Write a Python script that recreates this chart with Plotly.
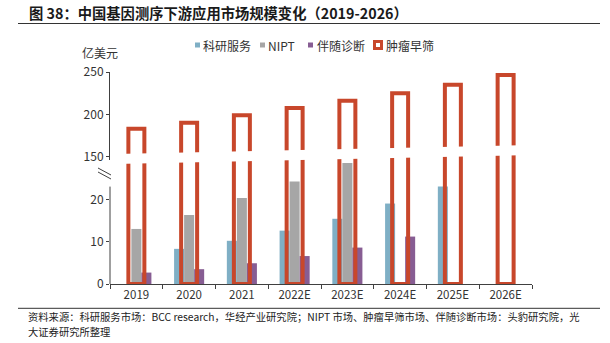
import plotly.graph_objects as go

# ---- data ----
years = ['2019', '2020', '2021', '2022E', '2023E', '2024E', '2025E', '2026E']
research = [None, 8.3, 10.2, 12.6, 15.4, 19.0, 23.0, None]      # 科研服务
nipt = [13.0, 16.3, 20.3, 24.2, 28.6, None, None, None]          # NIPT
companion = [2.7, 3.5, 4.9, 6.6, 8.6, 11.2, None, None]          # 伴随诊断
screening = [183, 190, 199, 207.5, 216, 225, 235, 246.5]         # 肿瘤早筛

names = ['科研服务', 'NIPT', '伴随诊断', '肿瘤早筛']
colors = ['#7FAFC5', '#A6A6A6', '#875D93', '#C8472B']

lower_ticks = [0, 10, 20]
upper_ticks = [150, 200, 250]

# ---- geometry helpers (pixel -> paper) ----
W, H = 610, 343
L, R, T, B = 110, 78, 72, 59
PW, PH = W - L - R, H - T - B


def px(x):
    return (x - L) / PW


def py(y):
    return (H - B - y) / PH


FONT = 'Noto Sans CJK SC'
TXT = '#333333'
AX = '#404040'

fig = go.Figure()

bw = 0.19
for vals, off, col, nm in [(research, -0.285, colors[0], names[0]),
                           (nipt, -0.095, colors[1], names[1]),
                           (companion, 0.095, colors[2], names[2])]:
    fig.add_trace(go.Bar(x=years, y=vals, width=[bw] * len(years), offset=[off] * len(years),
                         marker=dict(color=col, line=dict(width=0)), name=nm,
                         xaxis='x', yaxis='y', showlegend=False))

rw = 0.303
for ya in ['y', 'y2']:
    fig.add_trace(go.Bar(x=years, y=screening, width=[rw] * len(years), offset=[-rw / 2] * len(years),
                         marker=dict(color='rgba(0,0,0,0)', line=dict(color=colors[3], width=4)),
                         name=names[3], xaxis='x', yaxis=ya, showlegend=False))

shapes = []
# white slanted break band
x0b, x1b = 115, 534
def up_edge(x):
    return 153.5 - 0.0217 * (x - 137)
path = 'M {} {} L {} {} L {} {} L {} {} Z'.format(
    px(x0b), py(up_edge(x0b)), px(x1b), py(up_edge(x1b)),
    px(x1b), py(up_edge(x1b) + 10), px(x0b), py(up_edge(x0b) + 10))
shapes.append(dict(type='path', path=path, xref='paper', yref='paper',
                   fillcolor='white', line=dict(width=0), layer='above'))
# lower y-axis line (only up to the break)
shapes.append(dict(type='line', xref='paper', yref='y', x0=0, x1=0, y0=0, y1=23,
                   line=dict(color=AX, width=1)))
# break marks
for dy in (0, 4):
    shapes.append(dict(type='line', xref='paper', yref='paper',
                       x0=px(98), y0=py(168 + dy), x1=px(111), y1=py(175 + dy),
                       line=dict(color=AX, width=1)))
# title rule and footer rule
shapes.append(dict(type='line', xref='paper', yref='paper', x0=px(18), x1=px(600),
                   y0=py(23.5), y1=py(23.5), line=dict(color='#333333', width=1.2)))
shapes.append(dict(type='line', xref='paper', yref='paper', x0=px(18), x1=px(600),
                   y0=py(308.3), y1=py(308.3), line=dict(color='#333333', width=1)))

annotations = []
# legend (drawn manually for compact layout)
leg = [(195, 201, 5), (260, 266, 5), (308, 315, 5)]
for (sx, tx, s), col, nm in zip(leg, colors[:3], names[:3]):
    shapes.append(dict(type='rect', xref='paper', yref='paper',
                       x0=px(sx), x1=px(sx + s), y0=py(45 + s / 2), y1=py(45 - s / 2),
                       fillcolor=col, line=dict(width=0)))
    annotations.append(dict(text=nm, x=px(tx), y=py(45), xref='paper', yref='paper',
                            xanchor='left', yanchor='middle', showarrow=False,
                            font=dict(family=FONT, size=12, color=TXT)))
shapes.append(dict(type='rect', xref='paper', yref='paper',
                   x0=px(374.5), x1=px(381.5), y0=py(48.5), y1=py(41.5),
                   fillcolor='white', line=dict(color=colors[3], width=3)))
annotations.append(dict(text=names[3], x=px(383.5), y=py(45), xref='paper', yref='paper',
                        xanchor='left', yanchor='middle', showarrow=False,
                        font=dict(family=FONT, size=12, color=TXT)))

annotations.append(dict(text='亿美元', x=px(100), y=py(52), xref='paper', yref='paper',
                        xanchor='center', yanchor='middle', showarrow=False,
                        font=dict(family=FONT, size=12, color=TXT)))
annotations.append(dict(text='<b>图 38：中国基因测序下游应用市场规模变化（2019-2026）</b>',
                        x=px(27), y=py(13), xref='paper', yref='paper',
                        xanchor='left', yanchor='middle', showarrow=False,
                        font=dict(family=FONT, size=14.3, color='#1a1a1a')))
annotations.append(dict(text='资料来源：科研服务市场：BCC research，华经产业研究院；NIPT 市场、肿瘤早筛市场、伴随诊断市场：头豹研究院，光',
                        x=px(26), y=py(316), xref='paper', yref='paper',
                        xanchor='left', yanchor='middle', showarrow=False,
                        font=dict(family=FONT, size=10.3, color='#222222')))
annotations.append(dict(text='大证券研究所整理',
                        x=px(26), y=py(331), xref='paper', yref='paper',
                        xanchor='left', yanchor='middle', showarrow=False,
                        font=dict(family=FONT, size=10.3, color='#222222')))

lower_top = (H - B - 150) / ((H - B - 199.3) / 20)
upper_bottom = 150 - (160 - 156.7) / ((156.7 - 72) / 100)

fig.update_layout(
    width=W, height=H, margin=dict(l=L, r=R, t=T, b=B, pad=0),
    paper_bgcolor='white', plot_bgcolor='white',
    barmode='overlay', showlegend=False,
    font=dict(family=FONT, color=TXT),
    xaxis=dict(type='category', anchor='y', range=[-0.5, 7.5], showline=True, linecolor=AX,
               linewidth=1, ticks='outside', tickson='boundaries', ticklen=4, tickcolor=AX,
               showgrid=False, zeroline=False, tickfont=dict(family=FONT, size=11.5, color=TXT)),
    yaxis=dict(domain=[0, py(150)], range=[0, lower_top], tickvals=lower_ticks,
               showline=False, ticks='outside', ticklen=3, tickcolor=AX, showgrid=False,
               zeroline=False, tickfont=dict(family=FONT, size=12, color=TXT)),
    yaxis2=dict(domain=[py(160), 1], range=[upper_bottom, 250], tickvals=upper_ticks,
                anchor='x', showline=True, linecolor=AX, linewidth=1, ticks='outside',
                ticklen=3, tickcolor=AX, showgrid=False, zeroline=False,
                tickfont=dict(family=FONT, size=12, color=TXT)),
    shapes=shapes, annotations=annotations,
)

fig.write_html('out.html')
